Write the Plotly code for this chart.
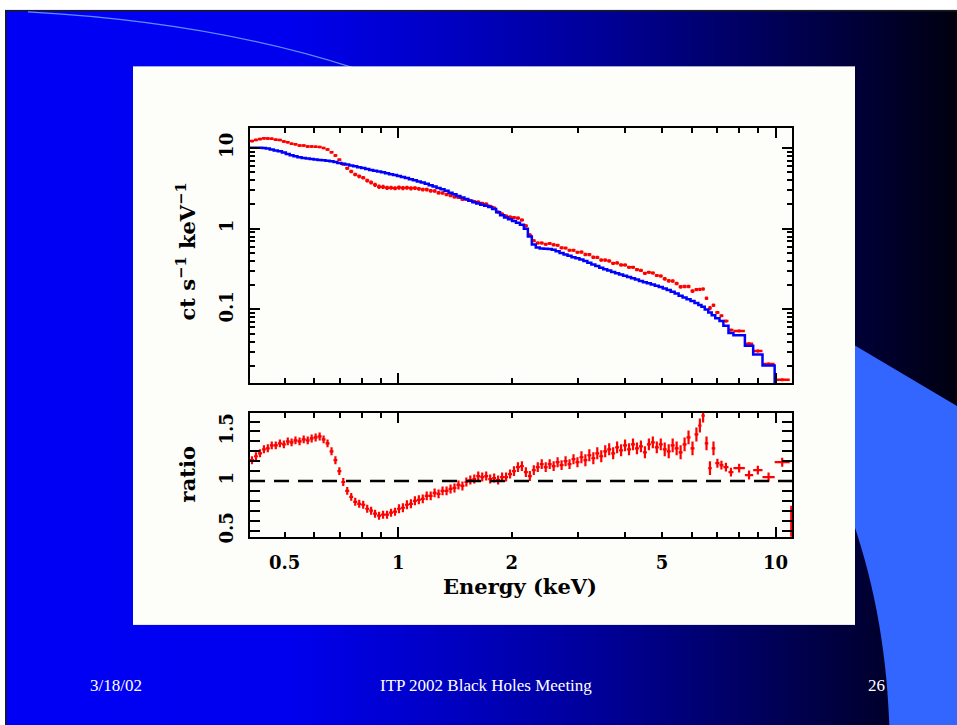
import base64
import numpy as np
import plotly.graph_objects as go

# ---------------------------------------------------------------------------
# Spectrum: channel energy bounds (keV), folded model rate and data/model ratio
# ---------------------------------------------------------------------------
energy_edges = [
    0.405, 0.415, 0.425, 0.436, 0.446, 0.457, 0.468, 0.480, 0.492, 0.504,
    0.516, 0.528, 0.541, 0.555, 0.569, 0.583, 0.597, 0.612, 0.627, 0.642,
    0.658, 0.674, 0.690, 0.707, 0.724, 0.742, 0.760, 0.779, 0.798, 0.818,
    0.838, 0.858, 0.879, 0.901, 0.923, 0.946, 0.969, 0.993, 1.017, 1.042,
    1.068, 1.094, 1.121, 1.148, 1.176, 1.205, 1.234, 1.264, 1.295, 1.327,
    1.360, 1.393, 1.427, 1.462, 1.498, 1.534, 1.572, 1.610, 1.650, 1.690,
    1.732, 1.774, 1.818, 1.862, 1.908, 1.955, 2.003, 2.051, 2.102, 2.153,
    2.206, 2.260, 2.315, 2.372, 2.430, 2.490, 2.551, 2.613, 2.677, 2.743,
    2.810, 2.879, 2.949, 3.022, 3.096, 3.171, 3.249, 3.329, 3.410, 3.494,
    3.579, 3.667, 3.757, 3.849, 3.943, 4.040, 4.139, 4.240, 4.344, 4.451,
    4.560, 4.671, 4.786, 4.903, 5.023, 5.146, 5.272, 5.401, 5.534, 5.669,
    5.808, 5.950, 6.096, 6.240, 6.360, 6.490, 6.630, 6.770, 6.920, 7.100,
    7.270, 7.500, 7.730, 8.290, 8.720, 9.230, 9.940, 10.900, 11.100,
]

# folded model, ct s^-1 keV^-1
model_rate = [
    10.1, 10.1, 10.1, 10.0, 9.85, 9.6, 9.35, 9.1, 8.8, 8.45,
    8.15, 7.9, 7.7, 7.55, 7.42, 7.3, 7.2, 7.12, 7.04, 6.96,
    6.84, 6.7, 6.53, 6.38, 6.24, 6.1, 5.95, 5.8, 5.65, 5.5,
    5.36, 5.23, 5.11, 5.0, 4.88, 4.75, 4.62, 4.5, 4.38, 4.25,
    4.12, 3.99, 3.86, 3.73, 3.6, 3.47, 3.34, 3.21, 3.09, 2.96,
    2.80, 2.67, 2.55, 2.44, 2.33, 2.22, 2.13, 2.05, 1.99, 1.93,
    1.86, 1.76, 1.6, 1.47, 1.38, 1.31, 1.25, 1.19, 1.12, 1.0,
    0.8, 0.64, 0.585, 0.57, 0.565, 0.56, 0.55, 0.525, 0.5, 0.48,
    0.462, 0.445, 0.43, 0.415, 0.398, 0.38, 0.362, 0.345, 0.328, 0.315,
    0.303, 0.292, 0.282, 0.272, 0.262, 0.253, 0.244, 0.235, 0.226, 0.218,
    0.211, 0.204, 0.197, 0.19, 0.182, 0.174, 0.166, 0.158, 0.148, 0.141,
    0.134, 0.127, 0.120, 0.114, 0.108, 0.100, 0.092, 0.085, 0.078, 0.072,
    0.063, 0.051, 0.048, 0.0356, 0.0276, 0.0203, 0.0113, 0.006,
]

# data / model
data_ratio = [
    1.21, 1.25, 1.28, 1.32, 1.33, 1.36, 1.36, 1.38, 1.37, 1.40,
    1.39, 1.41, 1.40, 1.42, 1.41, 1.43, 1.44, 1.45, 1.42, 1.38,
    1.30, 1.21, 1.10, 0.99, 0.90, 0.84, 0.79, 0.77, 0.76, 0.72,
    0.70, 0.67, 0.65, 0.66, 0.66, 0.68, 0.69, 0.72, 0.73, 0.76,
    0.77, 0.80, 0.81, 0.82, 0.85, 0.85, 0.88, 0.87, 0.90, 0.90,
    0.92, 0.93, 0.96, 0.95, 0.99, 1.01, 1.02, 1.05, 1.04, 1.05,
    1.02, 1.03, 1.01, 1.04, 1.04, 1.07, 1.10, 1.14, 1.15, 1.09,
    1.05, 1.11, 1.14, 1.17, 1.14, 1.17, 1.15, 1.19, 1.16, 1.20,
    1.17, 1.22, 1.19, 1.24, 1.21, 1.26, 1.23, 1.28, 1.25, 1.30,
    1.32, 1.28, 1.34, 1.31, 1.36, 1.32, 1.37, 1.33, 1.35, 1.29,
    1.37, 1.39, 1.34, 1.37, 1.32, 1.30, 1.36, 1.33, 1.29, 1.37,
    1.44, 1.33, 1.47, 1.56, 1.66, 1.38, 1.13, 1.33, 1.18, 1.16,
    1.14, 1.09, 1.13, 1.06, 1.11, 1.04, 1.19, 0.30,
]

# 1-sigma error on the ratio
ratio_err = [
    0.04, 0.04, 0.04, 0.04, 0.04, 0.04, 0.04, 0.04, 0.04, 0.04,
    0.04, 0.04, 0.04, 0.04, 0.04, 0.04, 0.04, 0.04, 0.04, 0.04,
    0.04, 0.04, 0.04, 0.04, 0.04, 0.04, 0.04, 0.04, 0.04, 0.04,
    0.04, 0.04, 0.04, 0.04, 0.04, 0.04, 0.04, 0.045, 0.045, 0.045,
    0.045, 0.045, 0.045, 0.045, 0.045, 0.045, 0.045, 0.045, 0.045, 0.045,
    0.045, 0.045, 0.045, 0.045, 0.045, 0.045, 0.045, 0.045, 0.045, 0.045,
    0.045, 0.045, 0.045, 0.045, 0.045, 0.045, 0.05, 0.05, 0.05, 0.05,
    0.05, 0.05, 0.05, 0.05, 0.05, 0.05, 0.05, 0.05, 0.05, 0.05,
    0.05, 0.05, 0.05, 0.06, 0.06, 0.06, 0.06, 0.06, 0.06, 0.06,
    0.06, 0.06, 0.06, 0.06, 0.06, 0.06, 0.06, 0.06, 0.06, 0.06,
    0.06, 0.06, 0.06, 0.06, 0.07, 0.07, 0.07, 0.07, 0.07, 0.07,
    0.07, 0.07, 0.07, 0.07, 0.07, 0.07, 0.07, 0.07, 0.045, 0.045,
    0.045, 0.045, 0.045, 0.045, 0.045, 0.045, 0.045, 0.45,
]

# axis ticks
x_decades = [1, 10]
x_minor = [0.5, 0.6, 0.7, 0.8, 0.9, 2, 3, 4, 5, 6, 7, 8, 9]
x_labels = [0.5, 1, 2, 5, 10]
x_label_text = ["0.5", "1", "2", "5", "10"]
rate_major = [0.1, 1, 10]
rate_major_text = ["0.1", "1", "10"]
rate_minor = [0.02, 0.03, 0.04, 0.05, 0.06, 0.07, 0.08, 0.09,
              0.2, 0.3, 0.4, 0.5, 0.6, 0.7, 0.8, 0.9,
              2, 3, 4, 5, 6, 7, 8, 9]
ratio_major = [0.5, 1, 1.5]
ratio_major_text = ["0.5", "1", "1.5"]
ratio_minor = [0.6, 0.7, 0.8, 0.9, 1.1, 1.2, 1.3, 1.4, 1.6]

# slide footer
footer_date = "3/18/02"
footer_title = "ITP 2002 Black Holes Meeting"
footer_page = "26"

# ---------------------------------------------------------------------------
edges = np.array(energy_edges)
e_lo, e_hi = edges[:-1], edges[1:]
e_mid = np.sqrt(e_lo * e_hi)
model = np.array(model_rate)
ratio = np.array(data_ratio)
r_err = np.array(ratio_err)
rate = model * ratio
rate_err = model * r_err

W, H = 957, 725
H_BG = 745  # background drawn a little taller than the page so it always covers it
x_range = [np.log10(0.405), np.log10(11.05)]
rate_range = [-1.914, 1.2515]
ratio_range = [0.437, 1.687]


def px_x(px):
    return px / W


def px_y(px):
    return 1 - px / H


# slide background (gradient, border, decorative shapes, white card)
svg = f"""<svg xmlns="http://www.w3.org/2000/svg" width="{W}" height="{H_BG}" viewBox="0 0 {W} {H_BG}" preserveAspectRatio="none">
<defs><linearGradient id="g" x1="0" y1="0" x2="1" y2="0">
<stop offset="0" stop-color="#0000f6"/><stop offset="0.3" stop-color="#0000ee"/>
<stop offset="0.62" stop-color="#00009a"/><stop offset="0.85" stop-color="#000048"/>
<stop offset="1" stop-color="#000010"/></linearGradient></defs>
<rect width="{W}" height="{H_BG}" fill="#ffffff"/>
<rect x="5" y="10" width="952" height="{H_BG - 10}" fill="url(#g)"/>
<path d="M5 10.8 H957 M5.8 10 V{H_BG}" stroke="#1a1a1a" stroke-width="1.6" fill="none"/>
<path d="M28 12 Q 210 22 352 68" stroke="#5f8cff" stroke-width="1.2" fill="none"/>
<path d="M830 334 L957 410 L957 {H_BG} L890 {H_BG} L889 725 C 886 650 872 575 845 505 Z" fill="#3366ff"/>
<rect x="133" y="67" width="722" height="564" fill="#fdfdf9"/>
</svg>"""
bg_src = "data:image/svg+xml;base64," + base64.b64encode(svg.encode()).decode()

AX_FONT = dict(family="DejaVu Serif", size=18, color="black", weight="bold")
TITLE_FONT = dict(family="DejaVu Serif", size=21, color="black", weight="bold")
FOOT_FONT = dict(family="Liberation Serif", size=17, color="white")

frame = dict(showline=True, linecolor="black", linewidth=2, mirror="allticks",
             ticks="inside", tickcolor="black", showgrid=False, zeroline=False)


def minor_ticks(vals):
    return dict(tickmode="array", tickvals=vals, ticks="inside", ticklen=5,
                tickwidth=1.5, tickcolor="black", showgrid=False)


dom_x = [px_x(250), px_x(792)]
dom_top = [px_y(387), px_y(129)]
dom_bot = [px_y(542), px_y(417)]

fig = go.Figure()

red = "#ff0000"
blue = "#0000ff"

# spectrum: data with error crosses
fig.add_trace(go.Scatter(
    x=e_mid, y=rate, mode="markers", xaxis="x", yaxis="y",
    marker=dict(size=2.5, color=red),
    error_x=dict(type="data", symmetric=False, array=e_hi - e_mid,
                 arrayminus=e_mid - e_lo, color=red, thickness=2.5, width=0),
    error_y=dict(type="data", array=rate_err, color=red, thickness=2.5, width=0),
    showlegend=False, hoverinfo="skip"))

# spectrum: folded model as a histogram
fig.add_trace(go.Scatter(
    x=edges, y=np.append(model, model[-1]), mode="lines", line_shape="hv",
    xaxis="x", yaxis="y", line=dict(color=blue, width=2.5),
    showlegend=False, hoverinfo="skip"))

# ratio panel
fig.add_trace(go.Scatter(
    x=e_mid, y=ratio, mode="markers", xaxis="x2", yaxis="y2",
    marker=dict(size=2.5, color=red),
    error_x=dict(type="data", symmetric=False, array=e_hi - e_mid,
                 arrayminus=e_mid - e_lo, color=red, thickness=2.2, width=0),
    error_y=dict(type="data", array=r_err, color=red, thickness=2.2, width=0),
    showlegend=False, hoverinfo="skip"))

# unity reference line
fig.add_trace(go.Scatter(
    x=[10 ** x_range[0], 10 ** x_range[1]], y=[1, 1], mode="lines",
    xaxis="x3", yaxis="y2", line=dict(color="black", width=2.4, dash="15px,9px"),
    showlegend=False, hoverinfo="skip"))

fig.update_layout(
    width=W, height=H, margin=dict(l=0, r=0, t=0, b=0),
    paper_bgcolor="#00006a", plot_bgcolor="#fdfdf9",
    images=[dict(source=bg_src, xref="paper", yref="paper", x=0, y=1,
                 sizex=1, sizey=H_BG / H, xanchor="left", yanchor="top",
                 sizing="stretch", layer="below")],
    xaxis=dict(domain=dom_x, anchor="y", type="log", range=x_range,
               tickmode="array", tickvals=x_decades, ticklen=10, tickwidth=2,
               showticklabels=False, minor=minor_ticks(x_minor), **frame),
    xaxis2=dict(domain=dom_x, anchor="y2", type="log", range=x_range, matches="x",
                tickmode="array", tickvals=x_decades, ticklen=10, tickwidth=2,
                showticklabels=False, minor=minor_ticks(x_minor), **frame),
    xaxis3=dict(domain=dom_x, anchor="y2", overlaying="x2", type="log",
                range=x_range, matches="x2", side="bottom",
                tickmode="array", tickvals=x_labels, ticktext=x_label_text,
                ticks="", showline=False, showgrid=False, zeroline=False,
                tickfont=AX_FONT, ticklabelstandoff=13),
    yaxis=dict(domain=dom_top, anchor="x", type="log", range=rate_range,
               tickmode="array", tickvals=rate_major, ticktext=rate_major_text,
               ticklen=10, tickwidth=2, tickangle=-90, tickfont=AX_FONT,
               ticklabelstandoff=8, minor=minor_ticks(rate_minor), **frame),
    yaxis2=dict(domain=dom_bot, anchor="x2", range=ratio_range,
                tickmode="array", tickvals=ratio_major, ticktext=ratio_major_text,
                ticklen=10, tickwidth=2, tickangle=-90, tickfont=AX_FONT,
                ticklabelstandoff=8, minor=minor_ticks(ratio_minor), **frame),
)

annotations = [
    dict(text="ct s<sup>\u22121</sup> keV<sup>\u22121</sup>", x=px_x(186), y=px_y(254),
         textangle=-90, font=TITLE_FONT),
    dict(text="ratio", x=px_x(187), y=px_y(479), textangle=-90, font=TITLE_FONT),
    dict(text="Energy (keV)", x=px_x(520), y=px_y(592), font=TITLE_FONT),
    dict(text=footer_date, x=px_x(116), y=px_y(692), font=FOOT_FONT),
    dict(text=footer_title, x=px_x(486), y=px_y(692), font=FOOT_FONT),
    dict(text=footer_page, x=px_x(876), y=px_y(692), font=FOOT_FONT),
]
for a in annotations:
    a.update(xref="paper", yref="paper", showarrow=False,
             xanchor="center", yanchor="middle")
fig.update_layout(annotations=annotations)

fig.write_html("out.html")
